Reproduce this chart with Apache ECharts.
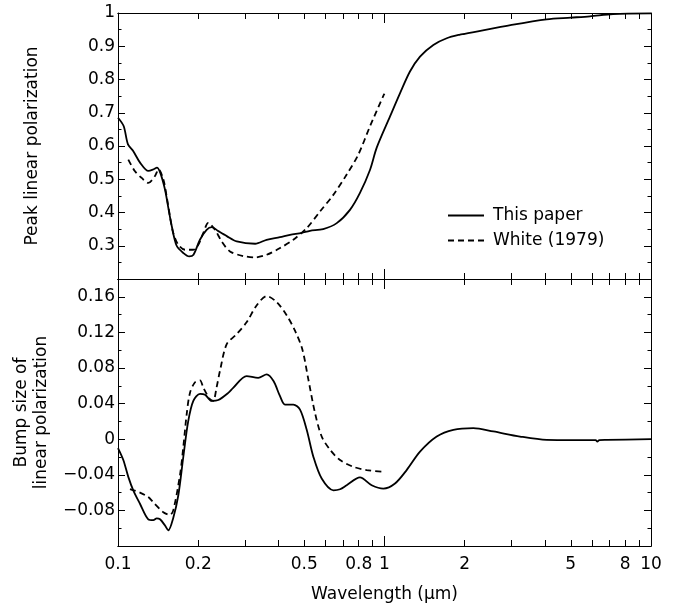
<!DOCTYPE html>
<html>
<head>
<meta charset="utf-8">
<script src="https://cdn.jsdelivr.net/npm/echarts@6/dist/echarts.min.js"></script>
<style>
  html, body { margin: 0; padding: 0; background: #fff; }
  #main { width: 689px; height: 608px; }
</style>
</head>
<body>
<div id="main"></div>
<script>
// wavelength (um) / value pairs
const topSolidX = [0.1, 0.105, 0.109, 0.114, 0.121, 0.13, 0.136, 0.14, 0.144, 0.15, 0.154, 0.159, 0.166, 0.176, 0.185, 0.192, 0.203, 0.215, 0.225, 0.238, 0.256, 0.279, 0.327, 0.361, 0.405, 0.442, 0.489, 0.525, 0.589, 0.662, 0.742, 0.809, 0.882, 0.935, 1.049, 1.144, 1.246, 1.359, 1.525, 1.712, 1.92, 2.0, 3.0, 4.06, 5.0, 5.9, 7.2, 10];
const topSolidY = [0.685, 0.66, 0.605, 0.585, 0.55, 0.525, 0.53, 0.535, 0.52, 0.47, 0.42, 0.36, 0.30, 0.278, 0.268, 0.273, 0.318, 0.348, 0.356, 0.344, 0.329, 0.313, 0.306, 0.318, 0.326, 0.333, 0.339, 0.345, 0.35, 0.368, 0.408, 0.459, 0.528, 0.595, 0.689, 0.759, 0.824, 0.869, 0.904, 0.924, 0.935, 0.937, 0.964, 0.981, 0.986, 0.99, 0.997, 0.999];

const topDashX = [0.1093, 0.1158, 0.1227, 0.1299, 0.1377, 0.142, 0.1479, 0.1523, 0.1567, 0.1612, 0.1684, 0.1784, 0.1917, 0.2001, 0.2089, 0.2182, 0.2312, 0.2449, 0.2632, 0.2953, 0.3268, 0.3614, 0.4055, 0.4549, 0.5106, 0.5728, 0.6426, 0.7213, 0.7973, 0.882, 0.99, 1.0];
const topDashY = [0.559, 0.524, 0.504, 0.489, 0.51, 0.53, 0.50, 0.448, 0.388, 0.338, 0.303, 0.288, 0.288, 0.303, 0.338, 0.369, 0.348, 0.313, 0.283, 0.269, 0.265, 0.273, 0.293, 0.318, 0.353, 0.403, 0.453, 0.514, 0.574, 0.659, 0.751, 0.757];

const botSolidX = [0.1, 0.1047, 0.1093, 0.1141, 0.1209, 0.1299, 0.1357, 0.1397, 0.1438, 0.1501, 0.1544, 0.161, 0.1684, 0.1758, 0.1834, 0.1917, 0.2031, 0.2121, 0.2247, 0.2379, 0.2592, 0.2705, 0.3037, 0.3358, 0.3614, 0.3833, 0.4055, 0.4232, 0.4549, 0.482, 0.5106, 0.5407, 0.5812, 0.6434, 0.6812, 0.7213, 0.809, 0.895, 0.99, 1.095, 1.211, 1.359, 1.57, 1.813, 2.154, 2.561, 3.224, 4.06, 5.11, 6.2, 6.29, 6.4, 6.82, 10];
const botSolidY = [-0.010, -0.0234, -0.0423, -0.0574, -0.0725, -0.090, -0.091, -0.089, -0.090, -0.097, -0.1025, -0.089, -0.063, -0.020, 0.020, 0.043, 0.051, 0.050, 0.043, 0.044, 0.052, 0.0577, 0.0709, 0.069, 0.0728, 0.0653, 0.0483, 0.0389, 0.0389, 0.0332, 0.0106, -0.0196, -0.0442, -0.0574, -0.0562, -0.0517, -0.043, -0.0517, -0.0555, -0.0498, -0.0347, -0.014, 0.003, 0.0106, 0.0125, 0.0087, 0.003, -0.0008, -0.0011, -0.001, -0.0028, -0.001, -0.0008, 0];

const botDashX = [0.1109, 0.1209, 0.1299, 0.1357, 0.1479, 0.1567, 0.1612, 0.1709, 0.1758, 0.181, 0.1862, 0.1945, 0.2031, 0.2089, 0.2212, 0.2276, 0.2343, 0.2414, 0.2558, 0.2789, 0.3037, 0.3311, 0.3614, 0.3942, 0.4301, 0.4615, 0.4915, 0.5179, 0.5486, 0.5812, 0.6258, 0.6812, 0.7641, 0.8573, 1.0];
const botDashY = [-0.056, -0.060, -0.065, -0.071, -0.082, -0.085, -0.080, -0.040, -0.009, 0.028, 0.052, 0.064, 0.066, 0.058, 0.045, 0.043, 0.058, 0.077, 0.1068, 0.1181, 0.1313, 0.1502, 0.1608, 0.154, 0.1389, 0.1219, 0.1011, 0.0672, 0.0294, 0.003, -0.0121, -0.0234, -0.031, -0.0347, -0.0366];

// log axis ticks / labels (wavelength)
const xTickVals = [0.1, 0.2, 0.3, 0.4, 0.5, 0.6, 0.7, 0.8, 0.9, 1, 2, 3, 4, 5, 6, 7, 8, 9, 10];
const xDecadeVals = [0.1, 1, 10];
const xLabelVals = [0.1, 0.2, 0.5, 0.8, 1, 2, 5, 8, 10];

const SERIES_NAMES = ['This paper', 'White (1979)'];
const FONT = 'DejaVu Sans';

function pairs(xs, ys) { // log10 of wavelength goes on a linear axis
  return xs.map((x, i) => [Math.log10(x), ys[i]]);
}

function fmtMinus(v) {
  const s = String(+v.toFixed(2));
  return v < 0 ? '\u2212' + s.slice(1) : s;
}

function makeXAxis(gridIndex, position, vals, len, withLabel) {
  const ax = {
    type: 'value',
    gridIndex: gridIndex,
    position: position,
    min: -1,
    max: 1,
    axisLine: { show: true, onZero: false, lineStyle: { color: '#000', width: 1 } },
    axisTick: { show: true, inside: true, length: len, customValues: vals.map(Math.log10), lineStyle: { color: '#000', width: 1 } },
    axisLabel: { show: false },
    splitLine: { show: false },
  };
  if (withLabel) {
    ax.axisLabel = {
      show: true,
      customValues: xLabelVals.map(Math.log10),
      formatter: v => String(Math.round(Math.pow(10, v) * 10) / 10),
      color: '#000',
      fontFamily: FONT,
      fontSize: 17,
      margin: 10,
    };
    ax.name = 'Wavelength (\u03bcm)';
    ax.nameLocation = 'middle';
    ax.nameGap = 40;
    ax.nameTextStyle = { color: '#000', fontFamily: FONT, fontSize: 17 };
  }
  return ax;
}

function makeYAxis(gridIndex, position, min, max, interval, labelFmt, name, nameGap) {
  const ax = {
    type: 'value',
    gridIndex: gridIndex,
    position: position,
    min: min,
    max: max,
    interval: interval,
    axisLine: { show: true, onZero: false, lineStyle: { color: '#000', width: 1 } },
    axisTick: { show: true, inside: true, length: 7, lineStyle: { color: '#000', width: 1 } },
    minorTick: { show: true, splitNumber: 2, length: 3.5, lineStyle: { color: '#000', width: 1 } },
    axisLabel: { show: false },
    splitLine: { show: false },
  };
  if (labelFmt) {
    ax.axisLabel = { show: true, formatter: labelFmt, color: '#000', fontFamily: FONT, fontSize: 17, margin: 3 };
    ax.name = name;
    ax.nameLocation = 'middle';
    ax.nameGap = nameGap;
    ax.nameTextStyle = { color: '#000', fontFamily: FONT, fontSize: 17, lineHeight: 20 };
  }
  return ax;
}

function makeLine(name, xs, ys, xi, yi, dashed) {
  return {
    name: name,
    type: 'line',
    xAxisIndex: xi,
    yAxisIndex: yi,
    data: pairs(xs, ys),
    symbol: 'none',
    smooth: 0.3,
    color: '#000',
    lineStyle: { color: '#000', width: 1.8, type: dashed ? [6, 4] : 'solid' },
  };
}

const chart = echarts.init(document.getElementById('main'));

const option = {
  animation: false,
  backgroundColor: '#fff',
  grid: [
    { left: 118, right: 38, top: 13, height: 266 },
    { left: 118, right: 38, top: 279, height: 267 },
  ],
  xAxis: [
    makeXAxis(0, 'bottom', xTickVals, 6, false),   // 0
    makeXAxis(0, 'bottom', xDecadeVals, 10, false),
    makeXAxis(0, 'top', xTickVals, 6, false),
    makeXAxis(0, 'top', xDecadeVals, 10, false),
    makeXAxis(1, 'bottom', xTickVals, 6, true),    // 4
    makeXAxis(1, 'bottom', xDecadeVals, 10, false),
    makeXAxis(1, 'top', xTickVals, 6, false),
    makeXAxis(1, 'top', xDecadeVals, 10, false),
  ],
  yAxis: [
    makeYAxis(0, 'left', 0.2, 1, 0.1, v => (v < 0.25 ? '' : String(Math.round(v * 10) / 10)), 'Peak linear polarization', 75),
    makeYAxis(0, 'right', 0.2, 1, 0.1, null),
    makeYAxis(1, 'left', -0.12, 0.18, 0.04, v => (v < -0.11 || v > 0.17 ? '' : fmtMinus(v)), 'Bump size of\nlinear polarization', 58),
    makeYAxis(1, 'right', -0.12, 0.18, 0.04, null),
  ],
  legend: {
    orient: 'vertical',
    left: 447,
    top: 207,
    padding: 0,
    itemWidth: 36,
    itemHeight: 18,
    itemGap: 8,
    data: SERIES_NAMES,
    itemStyle: { opacity: 0 },
    textStyle: { color: '#000', fontFamily: FONT, fontSize: 17, padding: [0, 0, 0, 4] },
  },
  series: [
    makeLine(SERIES_NAMES[0], topSolidX, topSolidY, 0, 0, false),
    makeLine(SERIES_NAMES[1], topDashX, topDashY, 0, 0, true),
    makeLine(SERIES_NAMES[0], botSolidX, botSolidY, 4, 2, false),
    makeLine(SERIES_NAMES[1], botDashX, botDashY, 4, 2, true),
  ],
};

chart.setOption(option);
</script>
</body>
</html>
